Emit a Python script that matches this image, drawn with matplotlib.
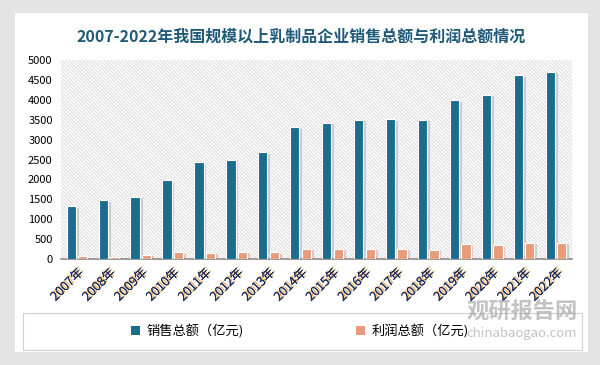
import matplotlib
matplotlib.use("Agg")
import matplotlib.pyplot as plt
import matplotlib.patheffects as pe
from matplotlib.patches import Rectangle, Patch
from matplotlib.collections import LineCollection
import numpy as np

plt.rcParams["font.family"] = ["Noto Sans CJK SC", "DejaVu Sans"]

years = [f"{y}年" for y in range(2007, 2023)]
sales = [1320, 1470, 1570, 1980, 2430, 2500, 2680, 3310,
         3420, 3490, 3510, 3490, 3990, 4120, 4620, 4710]
profit = [70, 40, 110, 170, 150, 175, 170, 250,
          250, 250, 250, 230, 370, 350, 400, 400]

BLUE = "#1d6b8f"
ORANGE = "#e89c7c"
NAVY = "#1a2a5a"

fig = plt.figure(figsize=(6, 3.65), dpi=100)
fig.patch.set_facecolor("#e4e4e4")
# white card
fig.patches.append(Rectangle((15 / 600, 1 - 352 / 365), 573 / 600, 339 / 365,
                             transform=fig.transFigure, facecolor="white",
                             edgecolor="none", zorder=-10))

ax_w, ax_h = 511, 199
ax = fig.add_axes([61 / 600, 1 - 259 / 365, ax_w / 600, ax_h / 365])
ax.set_facecolor("white")

# diagonal hatch background of the plot area
segs = []
for c in np.arange(0, ax_w + ax_h, 3.5):
    segs.append([((c - ax_h) / ax_w, 1.0), (c / ax_w, 0.0)])
ax.add_collection(LineCollection(segs, colors="#d9d9d9", linewidths=0.7,
                                 transform=ax.transAxes, zorder=0))

x = np.arange(len(years))
shadow = [pe.withSimplePatchShadow(offset=(2, -1), shadow_rgbFace="#888888", alpha=0.35),
          pe.Normal()]
b1 = ax.bar(x - 0.18, sales, 0.29, color=BLUE, edgecolor="white", lw=0.8, zorder=3)
b2 = ax.bar(x + 0.18, profit, 0.29, color=ORANGE, edgecolor="white", lw=0.8, zorder=3)
for b in list(b1) + list(b2):
    b.set_path_effects(shadow)

ax.set_xlim(-0.5, len(years) - 0.5)
ax.set_ylim(0, 5000)
ax.set_yticks(np.arange(0, 5001, 500))
ax.tick_params(axis="y", length=0, labelsize=8, pad=6)
ax.tick_params(axis="x", length=0, pad=5)
ax.set_xticks(x)
ax.set_xticklabels(years, rotation=45, ha="right", va="top", fontsize=9,
                   color=NAVY, rotation_mode="anchor")
for t in ax.get_xticklabels():
    t.set_path_effects([pe.withSimplePatchShadow(offset=(1, 1), shadow_rgbFace="#f0a040",
                                                 alpha=0.9), pe.Normal()])
for s in ["left", "right", "top"]:
    ax.spines[s].set_visible(False)
ax.spines["bottom"].set_color("#8a8a8a")
ax.spines["bottom"].set_linewidth(1.2)

fig.text(0.502, 1 - 37 / 365,
         "2007-2022年我国规模以上乳制品企业销售总额与利润总额情况",
         ha="center", va="center", fontsize=11.5, fontweight="bold", color="#1f5a78")

# legend box
fig.patches.append(Rectangle((23 / 600, 1 - 350 / 365), 559 / 600, 37 / 365,
                             transform=fig.transFigure, facecolor="none",
                             edgecolor="#d0d0d0", lw=0.8, zorder=1))
handles = [Patch(facecolor=BLUE), Patch(facecolor=ORANGE)]
labels = ["销售总额（亿元)", "利润总额（亿元)"]
fig.legend(handles, labels, loc="center", bbox_to_anchor=(0.5, 1 - 331 / 365),
           ncol=2, frameon=False, fontsize=9.5, handlelength=0.7, handleheight=0.7,
           handletextpad=0.5, columnspacing=8.5)

# watermark
fig.text(0.87, 1 - 312 / 365, "观研报告网", ha="center", va="center", fontsize=16,
         fontweight="bold", color="#9a9a9a", alpha=0.6)
fig.text(0.87, 1 - 333 / 365, "chinabaogao.com", ha="center", va="center", fontsize=9.5,
         color="#9a9a9a", alpha=0.6)

fig.savefig("out.png", dpi=100, facecolor=fig.get_facecolor())
